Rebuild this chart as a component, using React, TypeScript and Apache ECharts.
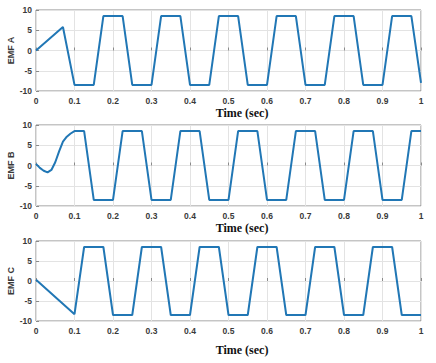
import React, { useEffect, useRef } from "react";
import * as echarts from "echarts";

const xTicks = [0, 0.1, 0.2, 0.3, 0.4, 0.5, 0.6, 0.7, 0.8, 0.9, 1];
const yTicks = [-10, -5, 0, 5, 10];

const emfATime = [0, 0.07, 0.1, 0.15, 0.175, 0.225, 0.25, 0.3, 0.325, 0.375, 0.4, 0.45, 0.475, 0.525, 0.55, 0.6, 0.625, 0.675, 0.7, 0.75, 0.775, 0.825, 0.85, 0.9, 0.925, 0.975, 1.0];
const emfAValues = [0, 5.8, -8.5, -8.5, 8.5, 8.5, -8.5, -8.5, 8.5, 8.5, -8.5, -8.5, 8.5, 8.5, -8.5, -8.5, 8.5, 8.5, -8.5, -8.5, 8.5, 8.5, -8.5, -8.5, 8.5, 8.5, -8];

const emfBTime = [0, 0.01, 0.02, 0.03, 0.04, 0.05, 0.06, 0.07, 0.08, 0.09, 0.1, 0.125, 0.15, 0.2, 0.225, 0.275, 0.3, 0.35, 0.375, 0.425, 0.45, 0.5, 0.525, 0.575, 0.6, 0.65, 0.675, 0.725, 0.75, 0.8, 0.825, 0.875, 0.9, 0.95, 0.975, 1.0];
const emfBValues = [0.4, -0.6, -1.3, -1.7, -1.1, 0.8, 3.5, 5.9, 7.1, 7.9, 8.5, 8.5, -8.5, -8.5, 8.5, 8.5, -8.5, -8.5, 8.5, 8.5, -8.5, -8.5, 8.5, 8.5, -8.5, -8.5, 8.5, 8.5, -8.5, -8.5, 8.5, 8.5, -8.5, -8.5, 8.5, 8.5];

const emfCTime = [0, 0.1, 0.125, 0.175, 0.2, 0.25, 0.275, 0.325, 0.35, 0.4, 0.425, 0.475, 0.5, 0.55, 0.575, 0.625, 0.65, 0.7, 0.725, 0.775, 0.8, 0.85, 0.875, 0.925, 0.95, 1.0];
const emfCValues = [0.3, -8.3, 8.5, 8.5, -8.5, -8.5, 8.5, 8.5, -8.5, -8.5, 8.5, 8.5, -8.5, -8.5, 8.5, 8.5, -8.5, -8.5, 8.5, 8.5, -8.5, -8.5, 8.5, 8.5, -8.5, -8.5];

const panelNames = ["EMF A", "EMF B", "EMF C"];
const xAxisTitle = "Time (sec)";

const LINE_COLOR = "#2177b5";
const LABEL_COLOR = "#3a3a3a";

export default function App() {
  const ref = useRef<HTMLDivElement>(null);
  useEffect(() => {
    if (!ref.current) return;
    const chart = echarts.init(ref.current, null, { renderer: "svg" });
    const panels = [
      { top: 10, height: 81, t: emfATime, v: emfAValues, titleY: 113 },
      { top: 125, height: 81, t: emfBTime, v: emfBValues, titleY: 228 },
      { top: 241, height: 80, t: emfCTime, v: emfCValues, titleY: 350 },
    ];
    const grids = panels.map((p) => ({
      left: 36,
      width: 385,
      top: p.top,
      height: p.height,
      show: true,
      containLabel: false,
      outerBoundsMode: "none",
      borderColor: "#8a8a8a",
      borderWidth: 1,
      backgroundColor: "#ffffff",
    }));
    const xAxes = panels.map((_, i) => ({
      type: "value",
      gridIndex: i,
      min: xTicks[0],
      max: xTicks[xTicks.length - 1],
      interval: 0.1,
      axisLine: { show: false },
      axisTick: { show: true, inside: true, length: 3, lineStyle: { color: "#8a8a8a" } },
      splitLine: { show: true, lineStyle: { color: "#e3e3e3", width: 1 } },
      axisLabel: {
        color: LABEL_COLOR,
        fontSize: 8.5,
        fontWeight: "bold",
        fontFamily: "Liberation Sans, Arial, sans-serif",
        margin: 5,
        formatter: (val: number) => String(Math.round(val * 10) / 10),
      },
    }));
    const yAxes = panels.map((_, i) => ({
      type: "value",
      gridIndex: i,
      min: yTicks[0],
      max: yTicks[yTicks.length - 1],
      interval: 5,
      name: panelNames[i],
      nameLocation: "middle",
      nameRotate: 90,
      nameGap: 21,
      nameMoveOverlap: false,
      nameTextStyle: {
        color: LABEL_COLOR,
        fontSize: 9,
        fontWeight: "bold",
        fontFamily: "Liberation Sans, Arial, sans-serif",
      },
      axisLine: { show: false },
      axisTick: { show: true, inside: true, length: 3, lineStyle: { color: "#8a8a8a" } },
      splitLine: { show: true, lineStyle: { color: "#e3e3e3", width: 1 } },
      axisLabel: {
        color: LABEL_COLOR,
        fontSize: 8.5,
        fontWeight: "bold",
        fontFamily: "Liberation Sans, Arial, sans-serif",
        margin: 4,
      },
    }));
    const series = panels.map((p, i) => ({
      type: "line",
      xAxisIndex: i,
      yAxisIndex: i,
      data: p.t.map((t, j) => [t, p.v[j]]),
      showSymbol: false,
      symbol: "none",
      lineStyle: { color: LINE_COLOR, width: 2 },
    }));
    const graphic = panels.map((p) => ({
      type: "text",
      x: 242,
      y: p.titleY,
      style: {
        text: xAxisTitle,
        fill: "#111",
        font: "bold 12px 'Liberation Serif', 'Times New Roman', serif",
        textAlign: "center",
        textVerticalAlign: "middle",
      },
    }));
    chart.setOption({
      animation: false,
      backgroundColor: "#ffffff",
      grid: grids,
      xAxis: xAxes,
      yAxis: yAxes,
      series,
      graphic,
    } as any);
    return () => chart.dispose();
  }, []);
  return (
    <div
      ref={ref}
      style={{ position: "fixed", left: 0, top: 0, width: 436, height: 363 }}
    />
  );
}
